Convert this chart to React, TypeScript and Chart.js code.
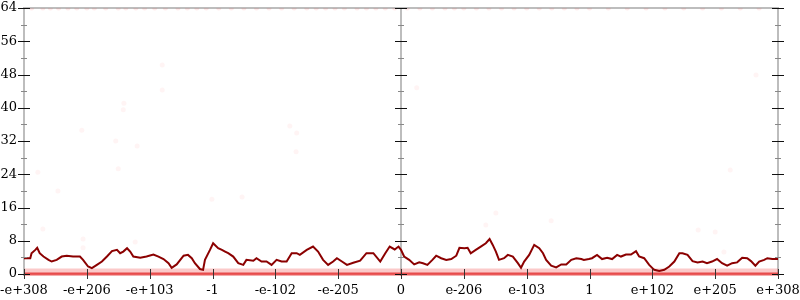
import React, { useEffect, useRef } from "react";
import { Chart, registerables } from "chart.js";
Chart.register(...registerables);

const xTickLabels = ["-e+308", "-e+206", "-e+103", "-1", "-e-102", "-e-205", "0", "e-206", "e-103", "1", "e+102", "e+205", "e+308"];
const yMin = 0;
const yMax = 64;

const lineX = [
  0, 0.10, 0.12, 0.18, 0.21, 0.25, 0.31, 0.39, 0.44, 0.52, 0.60, 0.68, 0.78, 0.89, 0.94, 1.02, 1.08, 1.16, 1.24, 1.32,
  1.40, 1.48, 1.53, 1.58, 1.64, 1.69, 1.74, 1.85, 1.95, 2.06, 2.14, 2.22, 2.30, 2.35, 2.43, 2.54, 2.61, 2.67, 2.72, 2.80,
  2.85, 2.88, 2.96, 3.01, 3.09, 3.15, 3.20, 3.25, 3.33, 3.41, 3.49, 3.54, 3.65, 3.70, 3.78, 3.86, 3.94, 4.02, 4.10, 4.18,
  4.26, 4.34, 4.39, 4.50, 4.60, 4.68, 4.76, 4.84, 4.92, 4.98, 5.06, 5.14, 5.24, 5.35, 5.45, 5.56, 5.67, 5.75, 5.82, 5.90,
  5.96, 6.00, 6.05, 6.13, 6.21, 6.29, 6.35, 6.42, 6.50, 6.56, 6.64, 6.72, 6.80, 6.88, 6.93, 7.01, 7.06, 7.11, 7.19, 7.27,
  7.35, 7.41, 7.46, 7.51, 7.56, 7.64, 7.70, 7.78, 7.86, 7.91, 7.96, 8.04, 8.12, 8.20, 8.26, 8.31, 8.39, 8.47, 8.55, 8.63,
  8.71, 8.79, 8.87, 8.91, 8.99, 9.04, 9.12, 9.20, 9.28, 9.36, 9.44, 9.50, 9.58, 9.66, 9.74, 9.79, 9.87, 9.95, 10.03, 10.11,
  10.19, 10.27, 10.35, 10.43, 10.48, 10.56, 10.64, 10.72, 10.80, 10.87, 10.95, 11.03, 11.11, 11.19, 11.27, 11.35, 11.43, 11.51, 11.57, 11.64,
  11.70, 11.78, 11.83, 11.91, 12
];
const lineY = [
  3.8, 3.8, 5.0, 5.8, 6.3, 5.0, 4.2, 3.4, 3.0, 3.4, 4.2, 4.4, 4.2, 4.2, 3.4, 1.8, 1.4, 2.2, 3.0, 4.2,
  5.5, 5.8, 5.0, 5.4, 6.2, 5.4, 4.2, 3.9, 4.2, 4.7, 4.2, 3.6, 2.6, 1.5, 2.3, 4.4, 4.6, 3.8, 2.6, 1.2,
  1.0, 3.4, 5.8, 7.4, 6.2, 5.8, 5.4, 5.0, 4.2, 2.6, 2.2, 3.4, 3.2, 3.8, 3.0, 3.0, 2.2, 3.4, 3.0, 3.0,
  5.0, 5.0, 4.6, 5.8, 6.6, 5.4, 3.4, 2.2, 3.0, 3.8, 3.0, 2.2, 2.7, 3.2, 5.0, 5.0, 3.0, 5.0, 6.6, 5.9,
  6.6, 5.8, 4.2, 3.4, 2.3, 2.8, 2.6, 2.2, 3.4, 4.4, 3.8, 3.4, 3.6, 4.4, 6.3, 6.2, 6.3, 5.0, 5.8, 6.6,
  7.4, 8.4, 7.0, 5.4, 3.4, 3.8, 4.6, 4.2, 2.6, 1.5, 3.0, 4.6, 7.0, 6.2, 5.0, 3.4, 2.0, 1.6, 2.3, 2.3,
  3.4, 3.8, 3.6, 3.4, 3.6, 3.8, 4.6, 3.6, 3.9, 3.6, 4.6, 4.2, 4.7, 4.7, 5.5, 4.2, 3.8, 2.2, 1.0, 0.7,
  1.0, 1.8, 3.0, 5.0, 5.0, 4.6, 3.1, 2.8, 3.0, 2.6, 3.0, 3.6, 2.6, 2.0, 2.6, 2.8, 3.9, 3.8, 3.1, 2.0,
  3.0, 3.4, 3.8, 3.6, 3.6
];

const bandX = [0, 12];
const bandTop = [1.3, 1.3];
const floorVal = [0, 0];

const topDotsX = [0.12, 0.3, 0.42, 0.55, 0.7, 0.84, 1.0, 1.12, 1.3, 1.5, 1.62, 1.78, 1.92, 2.08, 2.25, 2.45, 2.6, 2.75, 2.9,
  3.1, 3.3, 3.5, 3.7, 3.9, 4.1, 4.3, 4.5, 4.65, 4.8, 4.95, 5.1, 5.3, 5.45, 5.6, 5.75, 5.9, 6.1, 6.3, 6.5, 6.7, 6.85,
  7.0, 7.2, 7.4, 7.6, 7.8, 8.0, 8.2, 8.4, 8.6, 8.8, 9.0, 9.3, 9.6, 9.9, 10.2, 10.5, 10.8, 11.1, 11.4, 11.7];
const topDotsY = topDotsX.map(() => yMax);

const sparseX = [2.20, 2.20, 1.59, 1.58, 0.92, 1.46, 1.80, 0.22, 1.50, 0.54, 0.30, 0.94, 0.94, 1.77, 7.51, 7.35, 8.39, 6.25, 11.65, 11.00, 11.14, 4.23, 4.34, 3.47, 2.99, 4.33, 11.24, 10.73];
const sparseY = [50.3, 44.3, 41.1, 39.5, 34.6, 32.0, 30.8, 24.5, 25.3, 20.0, 10.8, 8.4, 6.3, 7.7, 14.7, 11.8, 12.8, 44.8, 47.9, 10.1, 5.3, 35.6, 33.9, 18.5, 18.0, 29.4, 25.0, 10.6];

const FONT = "'DejaVu Serif', serif";

const axesPlugin = {
  id: "customAxes",
  beforeDatasetsDraw(chart: any) {
    const { ctx, chartArea, scales } = chart;
    const xs = scales.x;
    ctx.save();
    ctx.strokeStyle = "#bdbdbd";
    ctx.lineWidth = 2;
    ctx.beginPath();
    ctx.moveTo(chartArea.left - 1, chartArea.top);
    ctx.lineTo(chartArea.right + 1, chartArea.top);
    for (const v of [0, 6, 12]) {
      const px = xs.getPixelForValue(v);
      ctx.moveTo(px, chartArea.top);
      ctx.lineTo(px, chartArea.bottom + 2);
    }
    ctx.stroke();
    ctx.restore();
  },
  afterDatasetsDraw(chart: any) {
    const { ctx, chartArea, scales } = chart;
    const xs = scales.x;
    const ys = scales.y;
    ctx.save();
    ctx.lineWidth = 1;
    for (const v of [0, 6, 12]) {
      const px = Math.round(xs.getPixelForValue(v));
      for (let t = yMin; t <= yMax; t += 4) {
        const py = Math.round(ys.getPixelForValue(t)) + 0.5;
        const major = t % 8 === 0;
        const half = major ? 6 : 3;
        ctx.strokeStyle = major ? "#111" : "#888";
        ctx.beginPath();
        ctx.moveTo(px - half, py);
        ctx.lineTo(px + half, py);
        ctx.stroke();
      }
    }
    ctx.strokeStyle = "#333";
    for (let i = 0; i < xTickLabels.length; i++) {
      const px = Math.round(xs.getPixelForValue(i)) + 0.5;
      ctx.beginPath();
      ctx.moveTo(px, chartArea.bottom - 5);
      ctx.lineTo(px, chartArea.bottom + 5);
      ctx.stroke();
    }
    ctx.restore();
  },
};

const noPad = (s: any) => {
  s.paddingLeft = 0;
  s.paddingRight = 0;
  s.paddingTop = 0;
  s.paddingBottom = 0;
};

export default function App() {
  const ref = useRef<HTMLCanvasElement | null>(null);
  useEffect(() => {
    document.body.style.margin = "0";
    if (!ref.current) return;
    const chart = new Chart(ref.current, {
      type: "line",
      data: {
        datasets: [
          {
            label: "density",
            data: lineX.map((x, i) => ({ x, y: lineY[i] })),
            borderColor: "#8b0000",
            borderWidth: 2,
            pointRadius: 0,
            tension: 0,
            fill: false,
            order: 0,
          },
          {
            label: "floor",
            data: bandX.map((x, i) => ({ x, y: floorVal[i] })),
            borderColor: "rgba(225,35,35,0.75)",
            borderWidth: 3,
            pointRadius: 0,
            fill: false,
            order: 1,
            clip: 4,
          } as any,
          {
            label: "band",
            data: bandX.map((x, i) => ({ x, y: bandTop[i] })),
            borderWidth: 0,
            borderColor: "rgba(0,0,0,0)",
            backgroundColor: "rgba(240,60,60,0.28)",
            pointRadius: 0,
            fill: "origin",
            order: 2,
          },
          {
            label: "top",
            type: "scatter",
            data: topDotsX.map((x, i) => ({ x, y: topDotsY[i] })),
            backgroundColor: "rgba(255,60,60,0.10)",
            borderWidth: 0,
            pointRadius: 2.5,
            order: 3,
          } as any,
          {
            label: "sparse",
            type: "scatter",
            data: sparseX.map((x, i) => ({ x, y: sparseY[i] })),
            backgroundColor: "rgba(255,60,60,0.06)",
            borderWidth: 0,
            pointRadius: 2.5,
            order: 4,
          } as any,
        ],
      },
      options: {
        animation: false,
        responsive: true,
        maintainAspectRatio: false,
        layout: { padding: { left: 0, right: 22, top: 8, bottom: 0 } },
        plugins: { legend: { display: false }, tooltip: { enabled: false } },
        scales: {
          x: {
            type: "linear",
            min: 0,
            max: 12,
            grid: { display: false, drawTicks: false },
            border: { display: false },
            ticks: {
              stepSize: 1,
              autoSkip: false,
              maxRotation: 0,
              minRotation: 0,
              padding: 9,
              color: "#000",
              font: { family: FONT, size: 13 },
              callback: (v: any) => xTickLabels[Number(v)] ?? "",
            },
            afterFit: (s: any) => {
              s.height = 26;
              noPad(s);
            },
          },
          y: {
            min: yMin,
            max: yMax,
            grid: { display: false, drawTicks: false },
            border: { display: false },
            ticks: {
              stepSize: 8,
              padding: 7,
              color: "#000",
              font: { family: FONT, size: 13 },
            },
            afterFit: (s: any) => {
              s.width = 24;
              noPad(s);
            },
          },
        },
      },
      plugins: [axesPlugin],
    });
    return () => chart.destroy();
  }, []);
  return (
    <div style={{ width: 800, height: 300, position: "relative" }}>
      <canvas ref={ref} />
    </div>
  );
}
